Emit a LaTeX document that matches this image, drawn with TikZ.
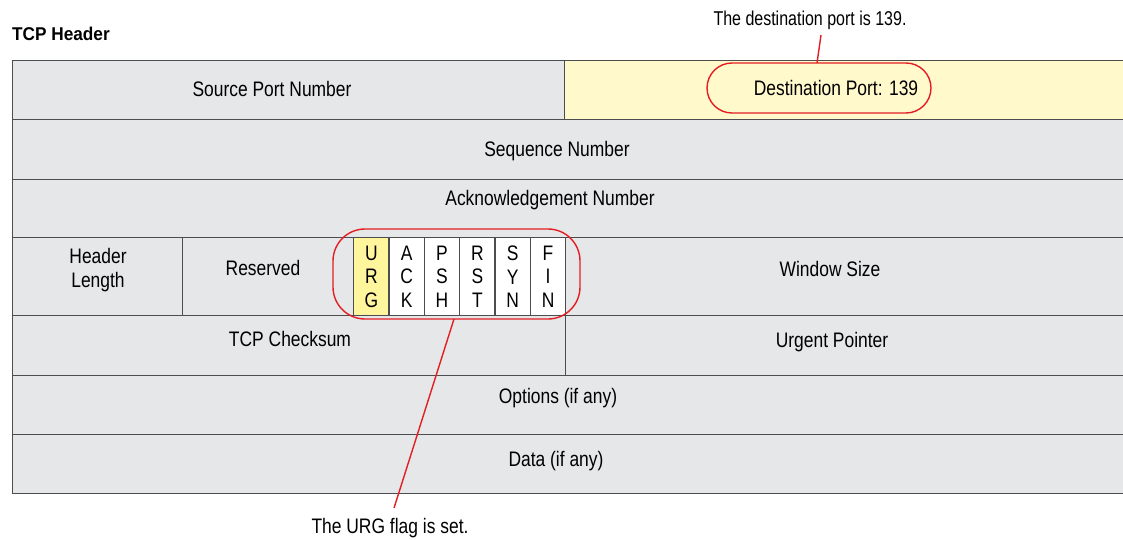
\documentclass[tikz,border=0pt]{standalone}
\usepackage{fontspec}
\setmainfont{Liberation Sans}[FakeStretch=0.83]
\newfontfamily\headfont{Liberation Sans}[FakeStretch=0.93]
\newfontfamily\notefont{Liberation Sans}[FakeStretch=0.8]
\definecolor{linegray}{HTML}{4D4D4F}
\definecolor{cellgray}{HTML}{E6E7E8}
\definecolor{paleyellow}{HTML}{FFF9CC}
\definecolor{urgyellow}{HTML}{FFF59D}
\definecolor{callred}{HTML}{E31E24}
\begin{document}
\begin{tikzpicture}[x=1pt,y=-1pt,
  cell/.style={draw=linegray, line width=1.4pt, fill=cellgray, inner sep=0pt, anchor=north west},
  flagcell/.style={cell, fill=white, minimum width=35.33pt, minimum height=78pt},
  txt/.style={inner sep=0pt, font=\fontsize{21}{23.5}\selectfont, align=center},
  note/.style={inner sep=0pt, font=\notefont\fontsize{20}{23.5}\selectfont},
  callout/.style={draw=callred, line width=1.4pt},
  leader/.style={draw=callred, line width=1.4pt}]
\useasboundingbox (0,0) rectangle (1123,540);
% heading
\node[anchor=west, inner sep=0pt, font=\headfont\bfseries\fontsize{18.5}{20}\selectfont] (title) at (12,34) {TCP Header};
% row 1
\node[cell, minimum width=552pt, minimum height=59pt] (src) at (12,60) {};
\node[cell, fill=paleyellow, minimum width=562pt, minimum height=59pt] (dst) at (564,60) {};
% row 2, 3
\node[cell, minimum width=1114pt, minimum height=60pt] (seq) at (12,119) {};
\node[cell, minimum width=1114pt, minimum height=58pt] (ack) at (12,179) {};
% row 4
\node[cell, minimum width=170pt, minimum height=78pt] (hl) at (12,237) {};
\node[cell, minimum width=171pt, minimum height=78pt] (res) at (182,237) {};
\node[flagcell, fill=urgyellow] (urg) at (353,237) {};
\node[flagcell] (ackf) at (388.33,237) {};
\node[flagcell] (psh) at (423.67,237) {};
\node[flagcell] (rst) at (459,237) {};
\node[flagcell] (syn) at (494.33,237) {};
\node[flagcell] (fin) at (529.67,237) {};
\node[cell, minimum width=561pt, minimum height=78pt] (win) at (565,237) {};
% row 5
\node[cell, minimum width=553pt, minimum height=60pt] (chk) at (12,315) {};
\node[cell, minimum width=561pt, minimum height=60pt] (urp) at (565,315) {};
% row 6, 7
\node[cell, minimum width=1114pt, minimum height=59pt] (opt) at (12,375) {};
\node[cell, minimum width=1114pt, minimum height=59pt] (data) at (12,434) {};
% texts
\node[txt] (tsrc) at (272,89) {Source Port Number};
\node[txt] (tdst) at (836,88) {Destination Port: 139};
\node[txt] (tseq) at (557,151) {Sequence Number};
\node[txt] (tack) at (550,200) {Acknowledgement Number};
\node[txt] (thl) at (98,270) {Header\\Length};
\node[txt] (tres) at (263,268) {Reserved};
\node[txt] at (urg.center) {U\\R\\G};
\node[txt] at (ackf.center) {A\\C\\K};
\node[txt] at (psh.center) {P\\S\\H};
\node[txt] at (rst.center) {R\\S\\T};
\node[txt] at (syn.center) {S\\Y\\N};
\node[txt] at (fin.center) {F\\I\\N};
\node[txt] (twin) at (830,269) {Window Size};
\node[txt] (tchk) at (290,339) {TCP Checksum};
\node[txt] (turp) at (832,342) {Urgent Pointer};
\node[txt] (topt) at (558,398) {Options (if any)};
\node[txt] (tdata) at (556,461) {Data (if any)};
% callouts
\node[callout, rounded corners=25pt, minimum width=224pt, minimum height=50pt, inner sep=0pt] (dstoval) at (819,88) {};
\node[callout, rounded corners=32pt, minimum width=247pt, minimum height=90pt, inner sep=0pt] (flagoval) at (456.5,274) {};
\node[note] (ndst) at (810,20) {The destination port is 139.};
\node[txt] (nurg) at (390,528) {The URG flag is set.};
\coordinate (dsttop) at (817,63);
\coordinate (dstend) at (821,35);
\coordinate (urgbot) at (454,319);
\coordinate (urgend) at (394,508);
\draw[leader] (dsttop) -- (dstend);
\draw[leader] (urgbot) -- (urgend);
\end{tikzpicture}
\end{document}
